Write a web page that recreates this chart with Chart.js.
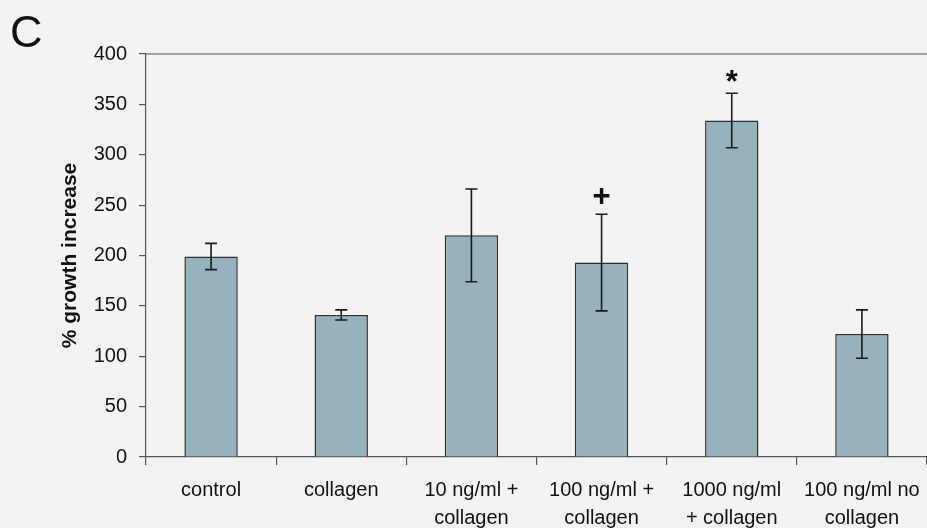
<!DOCTYPE html>
<html>
<head>
<meta charset="utf-8">
<script src="https://cdn.jsdelivr.net/npm/chart.js@4"></script>
<style>
  html, body { margin: 0; padding: 0; background: #f3f3f1; }
  #wrap { width: 927px; height: 528px; position: relative; }
</style>
</head>
<body>
<div id="wrap"><canvas id="growth-chart"></canvas></div>
<script>
const categories = [
  'control',
  'collagen',
  ['10 ng/ml +', 'collagen'],
  ['100 ng/ml +', 'collagen'],
  ['1000 ng/ml', '+ collagen'],
  ['100 ng/ml no', 'collagen'],
];
const growth = [199, 141, 220, 193, 334, 122];
const growthErr = [13, 5, 46, 48, 27, 24];
const marks = ['', '', '', '+', '*', ''];
const yTicks = [0, 50, 100, 150, 200, 250, 300, 350, 400];

const FONT = "'Liberation Sans', Arial, sans-serif";
const INK = '#111';

// error bars, significance marks, panel letter and the top frame line
const extras = {
  id: 'extras',
  afterDatasetsDraw(chart) {
    const { ctx, chartArea, scales: { y } } = chart;
    const meta = chart.getDatasetMeta(0);
    ctx.save();
    ctx.strokeStyle = '#1a1a1a';
    ctx.lineWidth = 1.6;
    meta.data.forEach((bar, i) => {
      const hi = y.getPixelForValue(growth[i] + growthErr[i]);
      const lo = y.getPixelForValue(growth[i] - growthErr[i]);
      ctx.beginPath();
      ctx.moveTo(bar.x, hi); ctx.lineTo(bar.x, lo);
      ctx.moveTo(bar.x - 6, hi); ctx.lineTo(bar.x + 6, hi);
      ctx.moveTo(bar.x - 6, lo); ctx.lineTo(bar.x + 6, lo);
      ctx.stroke();
      if (marks[i]) {
        ctx.fillStyle = INK;
        ctx.textAlign = 'center';
        ctx.textBaseline = 'middle';
        ctx.font = 'bold 31px ' + FONT;
        const gap = marks[i] === '+' ? 17 : 10;
        ctx.fillText(marks[i], bar.x, hi - gap);
      }
    });

    ctx.strokeStyle = '#555';
    ctx.lineWidth = 1.2;
    ctx.beginPath();
    ctx.moveTo(chartArea.left, chartArea.top);
    ctx.lineTo(chartArea.right, chartArea.top);
    ctx.stroke();

    ctx.fillStyle = INK;
    ctx.font = '45px ' + FONT;
    ctx.textAlign = 'left';
    ctx.textBaseline = 'alphabetic';
    ctx.fillText('C', 10, 47);
    ctx.restore();
  },
};

new Chart(document.getElementById('growth-chart'), {
  type: 'bar',
  data: {
    labels: categories,
    datasets: [{
      data: growth,
      backgroundColor: '#96b2bd',
      borderColor: '#2e2e2e',
      borderWidth: 1.5,
      categoryPercentage: 1,
      barPercentage: 0.41,
    }],
  },
  options: {
    responsive: true,
    maintainAspectRatio: false,
    animation: false,
    layout: { padding: { top: 54, right: 0, left: 0, bottom: 0 } },
    plugins: { legend: { display: false }, tooltip: { enabled: false } },
    scales: {
      x: {
        offset: true,
        grid: { offset: true, drawOnChartArea: false, drawTicks: true, tickLength: 8, color: '#555', lineWidth: 1.2 },
        border: { display: true, color: '#555', width: 1.2 },
        ticks: {
          color: INK,
          font: { family: FONT, size: 20, lineHeight: 1.4 },
          padding: 11,
          maxRotation: 0,
          autoSkip: false,
        },
        afterFit(scale) {
          scale.height = 71;
          scale.paddingLeft = 0;
          scale.paddingRight = 0;
        },
      },
      y: {
        min: 0,
        max: 400,
        afterBuildTicks(scale) { scale.ticks = yTicks.map(v => ({ value: v })); },
        grid: { drawOnChartArea: false, drawTicks: true, tickLength: 7, color: '#555', lineWidth: 1.2 },
        border: { display: true, color: '#555', width: 1.2 },
        ticks: { color: INK, font: { family: FONT, size: 20 }, padding: 12 },
        title: {
          display: true,
          text: '% growth increase',
          color: INK,
          font: { family: FONT, size: 21, weight: 'bold' },
          padding: { top: 58, bottom: 4 },
        },
        afterFit(scale) { scale.width = 146; },
      },
    },
  },
  plugins: [extras],
});
</script>
</body>
</html>
